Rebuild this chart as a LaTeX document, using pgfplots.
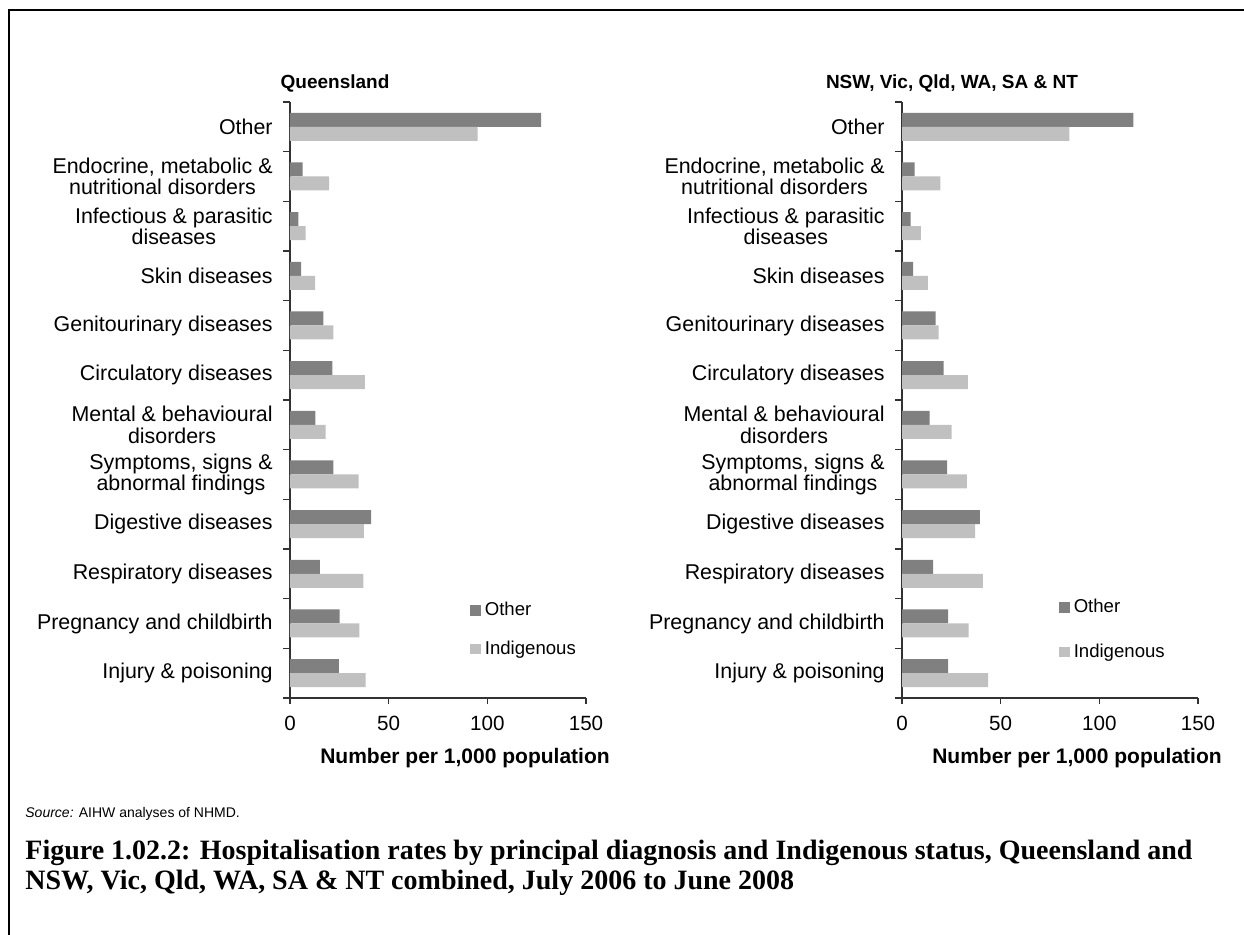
\documentclass[border=0pt]{standalone}
\usepackage{fontspec}
\setmainfont{Liberation Sans}
\newfontfamily\capfont{Liberation Serif}
\usepackage{pgfplots}
\usepackage{pgfplotstable}
\pgfplotsset{compat=1.18}

\definecolor{cOther}{RGB}{128,128,128}
\definecolor{cIndig}{RGB}{192,192,192}
\definecolor{cAxis}{RGB}{50,50,50}

% rates per 1,000 population, idx 0 = top category
\pgfplotstableread{
idx other indig
0  127.2 95.1
1  6.4   19.8
2  4.2   7.9
3  5.7   12.7
4  16.9  22.0
5  21.5  38.0
6  12.8  18.1
7  22.0  34.8
8  41.1  37.5
9  15.2  37.2
10 25.2  35.1
11 24.8  38.3
}\qld

\pgfplotstableread{
idx other indig
0  117.3 84.8
1  6.4   19.4
2  4.4   9.6
3  5.6   13.1
4  17.0  18.5
5  21.1  33.4
6  14.0  25.1
7  22.9  32.9
8  39.4  37.1
9  15.8  41.0
10 23.4  33.7
11 23.4  43.7
}\comb

\pgfplotsset{
  diagpanel/.style={
    xbar, scale only axis, width=148pt, height=298pt,
    y dir=reverse, ymin=-0.5, ymax=11.5, xmin=0, xmax=150,
    xtick={0,50,100,150}, ytick={0,...,11},
    minor ytick={-0.5,0.5,...,11.5},
    major y tick style={draw=none},
    yticklabels={Other,
      {Endocrine, metabolic \&\\nutritional disorders},
      {Infectious \& parasitic\\diseases},
      Skin diseases, Genitourinary diseases, Circulatory diseases,
      {Mental \& behavioural\\disorders},
      {Symptoms, signs \&\\abnormal findings},
      Digestive diseases, Respiratory diseases,
      Pregnancy and childbirth, Injury \& poisoning},
    axis lines*=left,
    axis line style={cAxis, line width=0.6pt},
    tick style={cAxis, line width=0.6pt},
    tick align=outside, tick pos=left,
    major tick length=3pt, minor tick length=3.5pt,
    bar width=7pt,
    /pgf/number format/assume math mode=true,
    xticklabel style={font=\fontsize{10.3}{11.7}\selectfont, inner sep=0pt, yshift=-6pt},
    yticklabel style={font=\fontsize{10.7}{10.6}\selectfont, align=center, inner sep=0pt, xshift=-5.5pt},
    legend cell align=left,
  },
  sqlegend/.style={legend image code/.code={\fill[##1] (0pt,-2.6pt) rectangle (5.2pt,2.6pt);}},
}

\begin{document}
\begin{tikzpicture}[x=0.5pt, y=0.5pt]
\useasboundingbox (0,0) rectangle (1244,935);
\draw[line width=1pt] (9,0) -- (9,925) -- (1244,925);

\begin{axis}[diagpanel, at={(145pt,118.5pt)}, anchor=south west,
  legend style={at={(rel axis cs:0.588,0.175)}, anchor=north west, draw=none, fill=none,
    font=\fontsize{9.3}{11}\selectfont, row sep=7pt}]
\addplot[fill=cOther, draw=none, bar shift=3.5pt, sqlegend] table[x=other, y=idx] {\qld};
\addplot[fill=cIndig, draw=none, bar shift=-3.5pt, sqlegend] table[x=indig, y=idx] {\qld};
\legend{Other, Indigenous}
\end{axis}

\begin{axis}[diagpanel, at={(451pt,118.5pt)}, anchor=south west,
  legend style={at={(rel axis cs:0.51,0.18)}, anchor=north west, draw=none, fill=none,
    font=\fontsize{9.3}{11}\selectfont, row sep=10pt}]
\addplot[fill=cOther, draw=none, bar shift=3.5pt, sqlegend] table[x=other, y=idx] {\comb};
\addplot[fill=cIndig, draw=none, bar shift=-3.5pt, sqlegend] table[x=indig, y=idx] {\comb};
\legend{Other, Indigenous}
\end{axis}

\node[font=\bfseries\fontsize{9.5}{11}\selectfont] at (335,851) {Queensland};
\node[font=\bfseries\fontsize{9.5}{11}\selectfont] at (952,851) {NSW, Vic, Qld, WA, SA \& NT};
\node[font=\bfseries\fontsize{10.5}{12}\selectfont] at (465,177) {Number per 1,000 population};
\node[font=\bfseries\fontsize{10.5}{12}\selectfont] at (1077,177) {Number per 1,000 population};

\node[anchor=base west, inner sep=0pt, font=\fontsize{7}{9}\selectfont] at (25,117)
  {\textit{Source:} AIHW analyses of NHMD.};
\node[anchor=base west, inner sep=0pt, align=left, font=\capfont\bfseries\fontsize{14}{15.3}\selectfont] at (25,45)
  {Figure 1.02.2: Hospitalisation rates by principal diagnosis and Indigenous status, Queensland and\\
   NSW, Vic, Qld, WA, SA \& NT combined, July 2006 to June 2008};
\end{tikzpicture}
\end{document}
